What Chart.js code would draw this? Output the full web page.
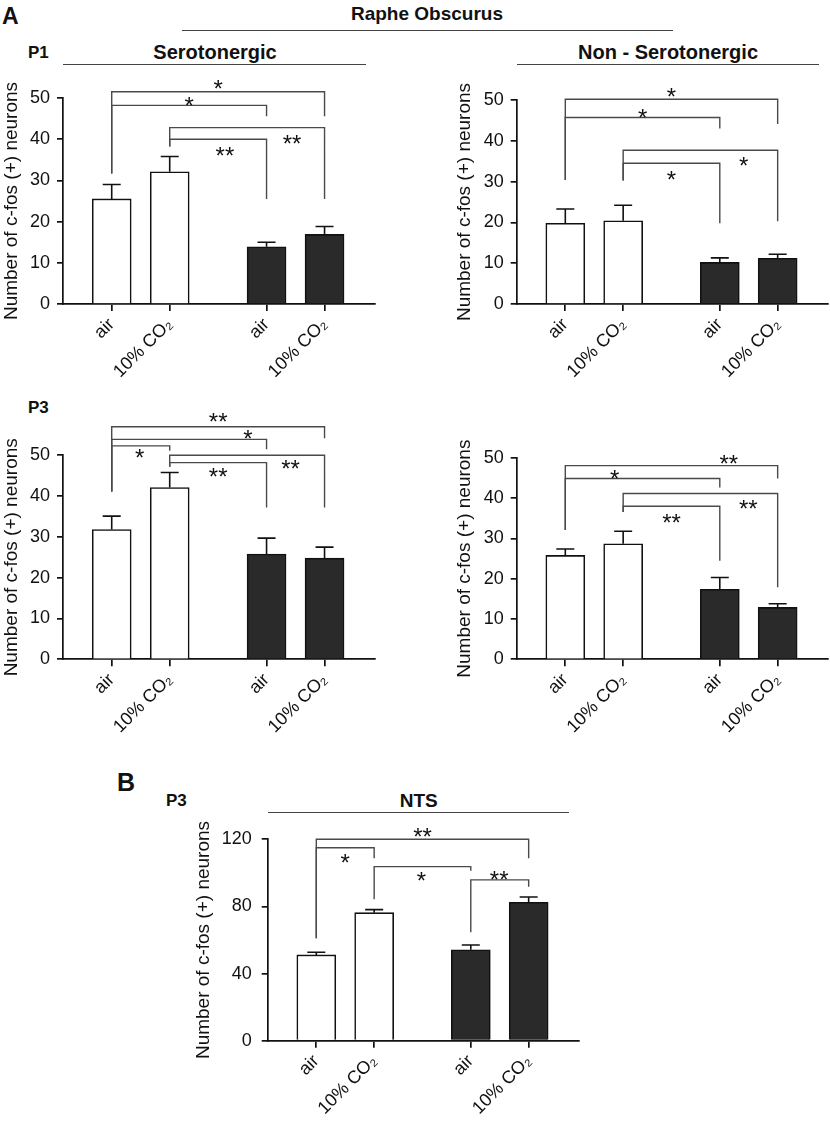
<!DOCTYPE html>
<html>
<head>
<meta charset="utf-8">
<script src="https://cdn.jsdelivr.net/npm/chart.js@4.4.0/dist/chart.umd.min.js"></script>
<style>
body { margin: 0; background: #fff; }
#page { position: relative; width: 830px; height: 1129px; overflow: hidden; font-family: "Liberation Sans", Arial, sans-serif; color: #111; }
#page canvas { position: absolute; }
.t { position: absolute; white-space: nowrap; font-weight: bold; line-height: 1; }
.rule { position: absolute; height: 0; border-top: 1.4px solid #444; }
</style>
</head>
<body>
<div id="page"></div>
<script>
// bar positions (two groups with a gap) and their labels
var barPos = [1, 2, 3.67, 4.67];
var barLabels = ['air', '10% CO₂', 'air', '10% CO₂'];
var barFill = ['#ffffff', '#ffffff', '#2a2a2a', '#2a2a2a'];

// Raphe Obscurus, P1
var p1SeroMean = [25.5, 32.1, 13.9, 16.9];
var p1SeroSem = [3.5, 3.7, 1.1, 1.9];
var p1NonMean = [19.8, 20.4, 10.2, 11.2];
var p1NonSem = [3.5, 3.8, 1.1, 1.0];
// Raphe Obscurus, P3
var p3SeroMean = [31.8, 42.1, 25.8, 24.8];
var p3SeroSem = [3.3, 3.7, 3.9, 2.7];
var p3NonMean = [25.8, 28.7, 17.4, 12.9];
var p3NonSem = [1.6, 3.1, 2.9, 0.9];
// NTS, P3
var ntsMean = [51.1, 76.3, 54.2, 82.5];
var ntsSem = [1.6, 1.8, 2.8, 3.1];

// brackets: [from bar, to bar, line level, left leg end, right leg end, stars, label x fraction, label level]
var p1SeroSig = [[0, 3, 51.5, 31.7, 45.6, '*', 0.5, 53.6], [0, 2, 48.2, 31.7, 45.6, '*', 0.5, 49.5],
                 [1, 3, 42.8, 38.2, 25.5, '**', 0.79, 40.3], [1, 2, 40.0, 38.2, 25.5, '**', 0.57, 37.4]];
var p1NonSig = [[0, 3, 50.2, 30.4, 44.1, '*', 0.5, 52.3], [0, 2, 45.7, 30.4, 43.0, '*', 0.5, 47.0],
                [1, 3, 37.7, 30.3, 20.3, '*', 0.78, 35.3], [1, 2, 34.5, 30.3, 19.8, '*', 0.5, 31.9]];
var p3SeroSig = [[0, 3, 57.0, 41.1, 54.2, '**', 0.5, 59.5], [0, 2, 53.9, 41.1, 51.5, '*', 0.88, 55.4],
                 [0, 1, 52.3, 41.1, 51.1, '*', 0.48, 50.7], [1, 3, 50.0, 47.2, 37.2, '**', 0.78, 48.0],
                 [1, 2, 48.2, 47.2, 37.2, '**', 0.5, 46.2]];
var p3NonSig = [[0, 3, 48.1, 32.1, 44.9, '**', 0.77, 50.0], [0, 2, 44.9, 32.1, 42.7, '*', 0.32, 46.3],
                [1, 3, 41.2, 36.6, 17.9, '**', 0.81, 38.7], [1, 2, 38.0, 36.6, 24.5, '**', 0.5, 35.3]];
var ntsSig = [[0, 3, 120, 61, 108.7, '**', 0.5, 125], [0, 1, 115, 61, 108.7, '*', 0.5, 109.7],
              [1, 2, 103.7, 84.3, 101.3, '*', 0.49, 98.6], [2, 3, 95.8, 64.6, 91.8, '**', 0.49, 99.3]];

Chart.defaults.font.family = '"Liberation Sans", Arial, sans-serif';
Chart.defaults.color = '#111';

var page = document.getElementById('page');

function text(str, x, yc, size, center) {
  var d = document.createElement('div');
  d.className = 't';
  d.textContent = str;
  d.style.fontSize = size + 'px';
  d.style.left = x + 'px';
  d.style.top = (yc - 0.49 * size) + 'px';
  if (center) d.style.transform = 'translateX(-50%)';
  page.appendChild(d);
}

function rule(x1, x2, y) {
  var d = document.createElement('div');
  d.className = 'rule';
  d.style.left = x1 + 'px';
  d.style.width = (x2 - x1) + 'px';
  d.style.top = y + 'px';
  page.appendChild(d);
}

// error bars (upper half) and significance brackets
var starSize = 24;
var extras = {
  id: 'extras',
  afterDatasetsDraw: function (chart) {
    var o = chart.options.plugins.extras;
    var x = chart.scales.x, y = chart.scales.y, ctx = chart.ctx;
    ctx.save();
    ctx.strokeStyle = '#111';
    ctx.lineWidth = 1.6;
    o.mean.forEach(function (m, i) {
      var px = x.getPixelForValue(barPos[i]);
      var top = y.getPixelForValue(m + o.sem[i]);
      ctx.beginPath();
      ctx.moveTo(px, y.getPixelForValue(m));
      ctx.lineTo(px, top);
      ctx.moveTo(px - 9, top);
      ctx.lineTo(px + 9, top);
      ctx.stroke();
    });
    ctx.strokeStyle = '#4a4a4a';
    ctx.lineWidth = 1.4;
    ctx.fillStyle = '#111';
    ctx.font = starSize + 'px "Liberation Sans", Arial, sans-serif';
    ctx.textAlign = 'center';
    ctx.textBaseline = 'alphabetic';
    o.brackets.forEach(function (b) {
      var xa = x.getPixelForValue(barPos[b[0]]), xb = x.getPixelForValue(barPos[b[1]]);
      var yl = y.getPixelForValue(b[2]);
      ctx.beginPath();
      ctx.moveTo(xa, y.getPixelForValue(b[3]));
      ctx.lineTo(xa, yl);
      ctx.lineTo(xb, yl);
      ctx.lineTo(xb, y.getPixelForValue(b[4]));
      ctx.stroke();
      ctx.fillText(b[5], xa + b[6] * (xb - xa), y.getPixelForValue(b[7]) + 0.58 * starSize);
    });
    ctx.restore();
  }
};

function panel(box, yMax, yStep, titleX, tickPad, mean, sem, brackets) {
  var left = Math.round(titleX - 9.5), top = Math.round(box[1] - 48);
  var right = Math.min(830, Math.round(box[2] + 2)), bottom = Math.min(1129, Math.round(box[3] + 96));
  var yWidth = box[0] - left;
  var c = document.createElement('canvas');
  c.width = right - left;
  c.height = bottom - top;
  c.style.left = left + 'px';
  c.style.top = top + 'px';
  page.appendChild(c);
  new Chart(c, {
    type: 'bar',
    data: {
      datasets: [{
        data: barPos.map(function (p, i) { return { x: p, y: mean[i] }; }),
        backgroundColor: barFill,
        borderColor: '#111',
        borderWidth: 1.6,
        barThickness: 39
      }]
    },
    options: {
      responsive: false,
      animation: false,
      layout: { padding: { top: box[1] - top, right: right - box[2], left: 0, bottom: 0 } },
      plugins: {
        legend: { display: false },
        tooltip: { enabled: false },
        extras: { mean: mean, sem: sem, brackets: brackets }
      },
      scales: {
        x: {
          type: 'linear', min: 0.16, max: 5.54, offset: false,
          afterFit: function (s) { s.height = bottom - box[3]; },
          afterBuildTicks: function (s) { s.ticks = barPos.map(function (v) { return { value: v }; }); },
          grid: { drawOnChartArea: false, tickLength: 7, color: '#111', lineWidth: 1.7, offset: false },
          border: { color: '#111', width: 1.7 },
          ticks: {
            autoSkip: false, maxRotation: 45, minRotation: 45, padding: 3, font: { size: 18 },
            callback: function (v, i) { return barLabels[i]; }
          }
        },
        y: {
          min: 0, max: yMax,
          afterFit: function (s) { s.width = yWidth; },
          grid: { drawOnChartArea: false, tickLength: 6, color: '#111', lineWidth: 1.7 },
          border: { color: '#111', width: 1.7 },
          ticks: { stepSize: yStep, padding: tickPad, font: { size: 18 } },
          title: { display: true, text: 'Number of c-fos (+) neurons', font: { size: 19, lineHeight: 1 }, padding: 0 }
        }
      }
    },
    plugins: [extras]
  });
}

// panel A
text('A', 2, 16, 23, false);
text('Raphe Obscurus', 427, 13.7, 19, true);
rule(182, 673, 30);
text('P1', 28, 52.5, 17, false);
text('Serotonergic', 215, 52, 20, true);
rule(63, 366, 64);
text('Non - Serotonergic', 668, 52, 20, true);
rule(517, 819, 64);
text('P3', 28, 407, 17, false);

panel([63, 98, 375, 304], 50, 10, 11, 7, p1SeroMean, p1SeroSem, p1SeroSig);
panel([516.7, 100, 828, 304], 50, 10, 464, 7, p1NonMean, p1NonSem, p1NonSig);
panel([63, 455.3, 375, 659.3], 50, 10, 11, 7, p3SeroMean, p3SeroSem, p3SeroSig);
panel([516.7, 458, 828, 659.3], 50, 10, 464, 7, p3NonMean, p3NonSem, p3NonSig);

// panel B
text('B', 117, 782, 25, false);
text('P3', 166, 800.7, 17, false);
text('NTS', 418.7, 800, 19, true);
rule(268, 569, 812);
panel([267.7, 839.3, 579, 1040.7], 120, 40, 203, 10, ntsMean, ntsSem, ntsSig);
</script>
</body>
</html>
